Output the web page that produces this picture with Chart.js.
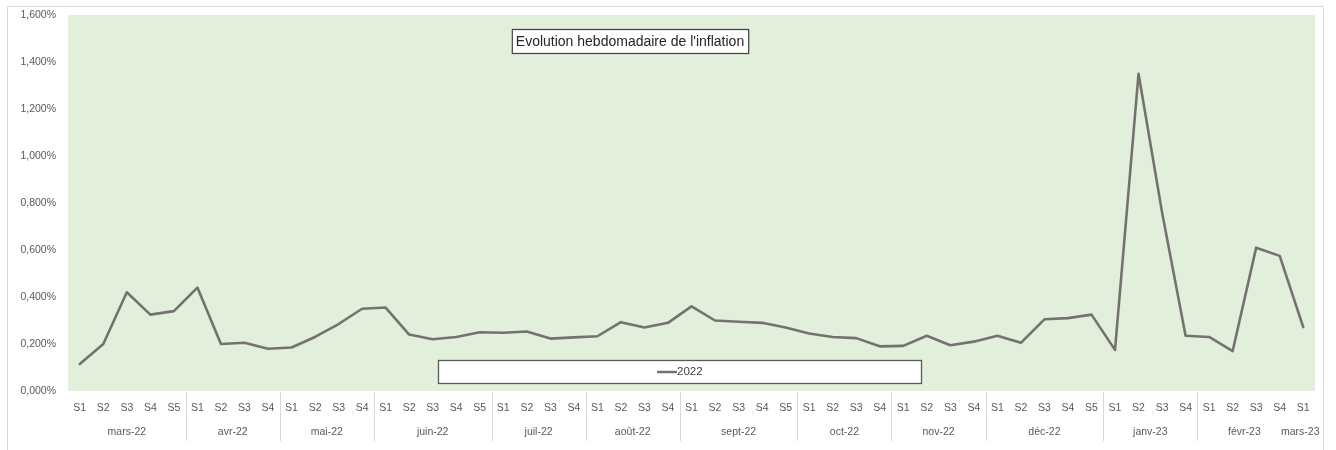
<!DOCTYPE html>
<html>
<head>
<meta charset="utf-8">
<script src="https://cdn.jsdelivr.net/npm/chart.js@4/dist/chart.umd.min.js"></script>
<style>
  html, body { margin: 0; padding: 0; background: #fff; }
  #wrap { width: 1336px; height: 450px; position: relative; }
</style>
</head>
<body>
<div id="wrap"><canvas id="grafico"></canvas></div>
<script>
// Mois et nombre de semaines par mois
var mois = ['mars-22', 'avr-22', 'mai-22', 'juin-22', 'juil-22', 'août-22', 'sept-22',
    'oct-22', 'nov-22', 'déc-22', 'janv-23', 'févr-23', 'mars-23'];
var semainesParMois = [5, 4, 4, 5, 4, 4, 5, 4, 4, 5, 4, 4, 1];

// Inflation hebdomadaire (%)
var inflation2022 = [
    0.115, 0.200, 0.420, 0.325, 0.340,
    0.440, 0.200, 0.205, 0.180,
    0.185, 0.230, 0.285, 0.350,
    0.355, 0.240, 0.220, 0.230, 0.250,
    0.248, 0.253, 0.223, 0.228,
    0.233, 0.293, 0.270, 0.290,
    0.360, 0.300, 0.295, 0.290, 0.270,
    0.245, 0.230, 0.225, 0.190,
    0.192, 0.235, 0.195, 0.210,
    0.235, 0.205, 0.305, 0.310, 0.325,
    0.175, 1.350, 0.760, 0.235,
    0.230, 0.170, 0.610, 0.575,
    0.272
];

var titreGraphique = "Evolution hebdomadaire de l'inflation";
var police = "'Liberation Sans', Arial, sans-serif";

// labels S1..S5 construits a partir des mois
var semaines = [];
var groupes = [];
semainesParMois.forEach(function(n, m) {
    var debut = semaines.length;
    for (var i = 1; i <= n; i++) semaines.push('S' + i);
    groupes.push({ nom: mois[m], debut: debut, fin: semaines.length - 1 });
});

var decor = {
    id: 'decor',
    beforeDraw: function(chart) {
        var c = chart.ctx, a = chart.chartArea;
        c.save();
        // cadre du graphique
        c.strokeStyle = '#d9d9d9';
        c.lineWidth = 1;
        c.beginPath();
        c.moveTo(7.5, 450); c.lineTo(7.5, 6.5); c.lineTo(1323.5, 6.5); c.lineTo(1323.5, 450);
        c.stroke();
        // fond vert de la zone de tracé
        c.fillStyle = '#e2efda';
        c.fillRect(a.left, a.top, a.right - a.left, a.bottom - a.top);
        c.restore();
    },
    afterDraw: function(chart) {
        var c = chart.ctx, a = chart.chartArea, x = chart.scales.x;
        c.save();
        // séparateurs et noms des mois
        c.font = '10.5px ' + police;
        c.fillStyle = '#595959';
        c.textAlign = 'center';
        c.textBaseline = 'middle';
        groupes.forEach(function(g, k) {
            var x0 = x.getPixelForValue(g.debut), x1 = x.getPixelForValue(g.fin);
            var cx = (x0 + x1) / 2;
            if (g.debut === g.fin) cx -= 3;
            c.fillText(g.nom, cx, a.bottom + 41);
            if (k > 0 && g.debut !== g.fin) {
                var xs = Math.round((x.getPixelForValue(g.debut - 1) + x0) / 2) + 0.5;
                c.strokeStyle = '#d9d9d9';
                c.lineWidth = 1;
                c.beginPath();
                c.moveTo(xs, a.bottom + 1);
                c.lineTo(xs, a.bottom + 50);
                c.stroke();
            }
        });
        // boite de titre
        c.font = '14px ' + police;
        var tw = c.measureText(titreGraphique).width;
        var tx = 630, ty = 41;
        c.fillStyle = '#ffffff';
        c.fillRect(tx - tw / 2 - 4, ty - 12, tw + 8, 24);
        c.strokeStyle = '#404040';
        c.lineWidth = 1.2;
        c.strokeRect(tx - tw / 2 - 4 + 0.5, ty - 12 + 0.5, tw + 8, 24);
        c.fillStyle = '#262626';
        c.fillText(titreGraphique, tx, ty + 1);
        // légende
        var ds = chart.data.datasets[0];
        c.fillStyle = '#ffffff';
        c.fillRect(438, 360, 483, 23);
        c.strokeStyle = '#595959';
        c.lineWidth = 1.3;
        c.strokeRect(438.5, 360.5, 483, 23);
        c.strokeStyle = ds.borderColor;
        c.lineWidth = 2.5;
        c.beginPath();
        c.moveTo(657, 372); c.lineTo(677, 372);
        c.stroke();
        c.font = '11.5px ' + police;
        c.fillStyle = '#404040';
        c.textAlign = 'left';
        c.fillText(ds.label, 677, 372);
        c.restore();
    }
};

window.onload = function() {
    var contexto = document.getElementById('grafico').getContext('2d');
    new Chart(contexto, {
        type: 'line',
        data: {
            labels: semaines,
            datasets: [{
                label: '2022',
                data: inflation2022,
                borderColor: '#767171',
                backgroundColor: '#767171',
                borderWidth: 2.6,
                borderJoinStyle: 'round',
                borderCapStyle: 'round',
                pointRadius: 0,
                tension: 0,
                fill: false
            }]
        },
        options: {
            responsive: true,
            maintainAspectRatio: false,
            animation: false,
            layout: { padding: { left: 8, right: 21, top: 15, bottom: 0 } },
            plugins: {
                legend: { display: false },
                tooltip: { enabled: false }
            },
            scales: {
                x: {
                    offset: true,
                    grid: { display: false, drawTicks: false },
                    border: { display: false },
                    ticks: {
                        autoSkip: false, maxRotation: 0, padding: 11,
                        color: '#595959', font: { family: police, size: 10.5 }
                    },
                    afterFit: function(s) { s.height = 59; }
                },
                y: {
                    min: 0, max: 1.6,
                    grid: { display: false, drawTicks: true, tickLength: 9 },
                    border: { display: false },
                    ticks: {
                        stepSize: 0.2, padding: 3,
                        color: '#595959', font: { family: police, size: 10.5 },
                        callback: function(v) { return v.toFixed(3).replace('.', ',') + '%'; }
                    },
                    afterFit: function(s) { s.width = 60; }
                }
            }
        },
        plugins: [decor]
    });
};
</script>
</body>
</html>
